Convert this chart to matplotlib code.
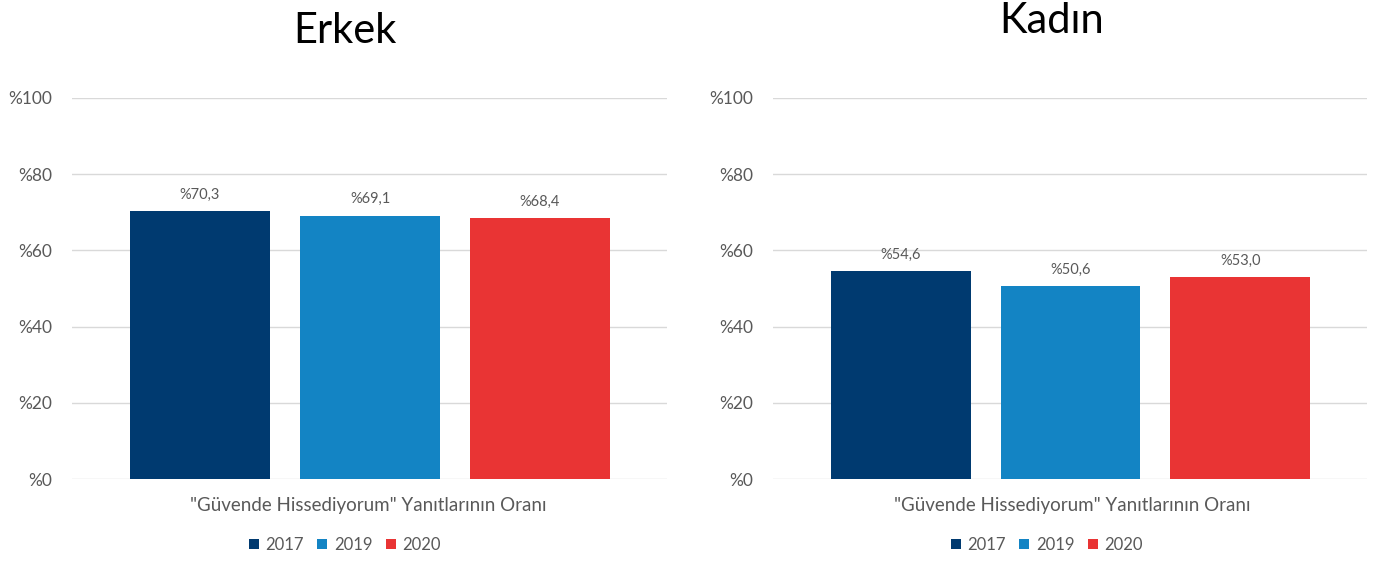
import matplotlib
matplotlib.use("Agg")
import matplotlib.pyplot as plt
from matplotlib.patches import Patch

plt.rcParams['font.family'] = ['Lato', 'DejaVu Sans']

# ── veriler ──
years = ["2017", "2019", "2020"]
erkek = [70.3, 69.1, 68.4]
kadin = [54.6, 50.6, 53.0]
panel_titles = ["Erkek", "Kadın"]
xlabel = '"Güvende Hissediyorum" Yanıtlarının Oranı'
yticks = [0, 20, 40, 60, 80, 100]
colors = ["#003A70", "#1384C4", "#E93434"]

W, H = 1376, 561
fig = plt.figure(figsize=(W / 100, H / 100), dpi=100)

# piksel cinsinden eksen kutuları (sol, sağ)
boxes = [(72, 667), (773, 1367)]
top_px, bot_px = 98, 479
title_pos = [(345, 31), (1052, 21)]
xlabel_x = [368, 1072]
legend_x = [345, 1047]

for i, (vals, title) in enumerate(zip([erkek, kadin], panel_titles)):
    l, r = boxes[i]
    ax = fig.add_axes([l / W, 1 - bot_px / H, (r - l) / W, (bot_px - top_px) / H])
    xs = list(range(len(years)))
    ax.bar(xs, vals, width=0.824, color=colors, zorder=3)
    ax.set_xlim(-0.753, 2.747)
    ax.set_ylim(0, 100)
    ax.set_yticks(yticks)
    ax.set_yticklabels([f"%{t}" for t in yticks], fontsize=12.5, color="#595959")
    ax.tick_params(axis='y', length=0, pad=14)
    ax.set_xticks([])
    ax.grid(axis='y', color="#D9D9D9", linewidth=1, zorder=0)
    for s in ax.spines.values():
        s.set_visible(False)
    for x, v in zip(xs, vals):
        ax.text(x, v + 2.5, f"%{v:.1f}".replace(".", ","), ha='center', va='bottom',
                fontsize=10.5, color="#595959")
    tx, ty = title_pos[i]
    fig.text(tx / W, 1 - ty / H, title, ha='center', va='center', fontsize=30, color="black")
    fig.text(xlabel_x[i] / W, 1 - 505 / H, xlabel, ha='center', va='center',
             fontsize=13.5, color="#595959")
    handles = [Patch(facecolor=c, label=y) for c, y in zip(colors, years)]
    fig.legend(handles=handles, loc='center', bbox_to_anchor=(legend_x[i] / W, 1 - 545 / H), ncol=3,
               frameon=False, fontsize=12, labelcolor="#595959", handlelength=0.6,
               handleheight=0.6, handletextpad=0.4, columnspacing=0.8)

plt.savefig("out.png", dpi=100)
